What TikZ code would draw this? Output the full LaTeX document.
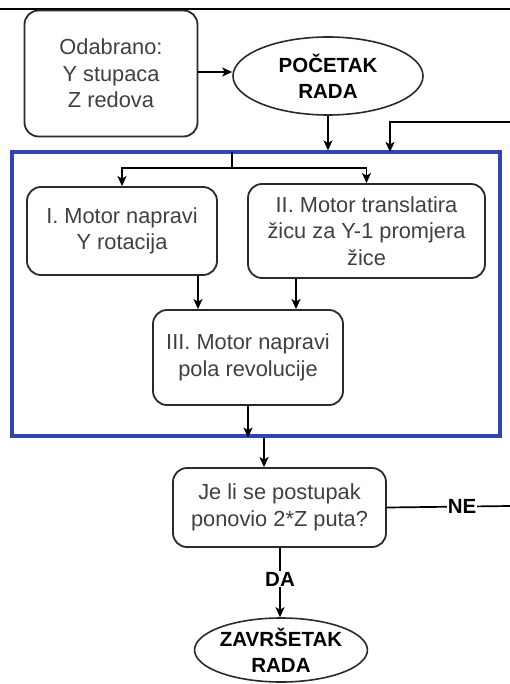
\documentclass[tikz,border=0pt]{standalone}
\usepackage{fontspec}
\setmainfont{Liberation Sans}
\usetikzlibrary{shapes.geometric,arrows.meta,calc}
\definecolor{txtgray}{HTML}{404040}
\definecolor{frameblue}{HTML}{3343B0}
\definecolor{edgegray}{HTML}{2A2A2A}
\tikzset{
  box/.style={draw=edgegray, line width=1.8pt, rounded corners=14pt, inner sep=0pt,
    align=center, text=txtgray, font=\fontsize{21.8}{26.5}\selectfont},
  oval/.style={ellipse, draw=edgegray, line width=1.6pt, inner sep=0pt,
    align=center, font=\fontsize{20.5}{26}\selectfont\bfseries},
  frame/.style={draw=frameblue, line width=3.2pt, inner sep=0pt},
  link/.style={draw=black, line width=1.7pt},
  arr/.style={link, -{Stealth[length=10pt,width=9pt,inset=2.5pt]}},
  tag/.style={fill=white, inner sep=1pt, font=\fontsize{20.5}{24}\selectfont\bfseries}
}
\begin{document}
\begin{tikzpicture}[x=1pt,y=-1pt]
  \useasboundingbox (0,0) rectangle (510,684);
  \fill[white] (0,0) rectangle (510,684);

  % page rule along the top
  \coordinate (ruleL) at (0,9);
  \coordinate (ruleM) at (11,9);
  \coordinate (ruleR) at (510,9);
  \draw[line width=2.8pt] (ruleL) -- (ruleM);
  \draw[line width=1.1pt] (ruleM) -- (ruleR);

  % blocks
  \node[box, minimum width=173pt, minimum height=126pt] (start) at (111,73.5)
    {Odabrano:\\Y stupaca\\Z redova};
  \node[oval, minimum width=190pt, minimum height=78pt] (begin) at (328,76)
    {POČETAK\\RADA};
  \node[frame, minimum width=488pt, minimum height=284pt] (frame) at (256,294) {};
  \node[box, minimum width=190pt, minimum height=88pt] (rot) at (122,231)
    {I. Motor napravi\\Y rotacija};
  \node[box, minimum width=237pt, minimum height=94pt] (trans) at (366.5,231)
    {II. Motor translatira\\žicu za Y-1 promjera\\žice};
  \node[box, minimum width=190pt, minimum height=95pt] (half) at (248,357.5)
    {III. Motor napravi\\pola revolucije};
  \node[box, minimum width=213pt, minimum height=79pt] (check) at (279.5,507.5)
    {Je li se postupak\\ponovio 2*Z puta?};
  \node[oval, minimum width=164pt, minimum height=64pt] (finish) at (281,650)
    {ZAVRŠETAK\\RADA};

  % helper points
  \coordinate (loopR) at (510,122);
  \coordinate (loopIn) at (390,152);
  \coordinate (split) at (232,152);
  \coordinate (splitB) at (232,168);
  \coordinate (neR) at (510,506);

  % main flow
  \draw[arr] (start.east |- 0,72) -- (begin.west |- 0,72);
  \draw[arr] (begin.south) -- (begin.south |- frame.north);
  \draw[arr] (loopR) -| (loopIn);

  \draw[link] (split) -- (splitB);
  \draw[arr] (splitB) -| (rot.north);
  \draw[arr] (splitB) -| (trans.north);

  \draw[arr] ([xshift=76pt]rot.south) -- ([xshift=76pt]rot.south |- half.north);
  \draw[arr] ([xshift=-70.5pt]trans.south) -- ([xshift=-70.5pt]trans.south |- half.north);
  \draw[arr] (half.south) -- (half.south |- frame.south);

  \draw[arr] ([xshift=-15.5pt]check.north |- frame.south) -- ([xshift=-15.5pt]check.north);

  % decision outcomes
  \draw[link] (check.east) -- (neR) node[tag, pos=0.61] (ne) {NE};
  \node[tag] (da) at (280,579) {DA};
  \draw[link] (check.south -| da) -- (da.north);
  \draw[arr] (da.south) -- (da.south |- finish.north);
\end{tikzpicture}
\end{document}
